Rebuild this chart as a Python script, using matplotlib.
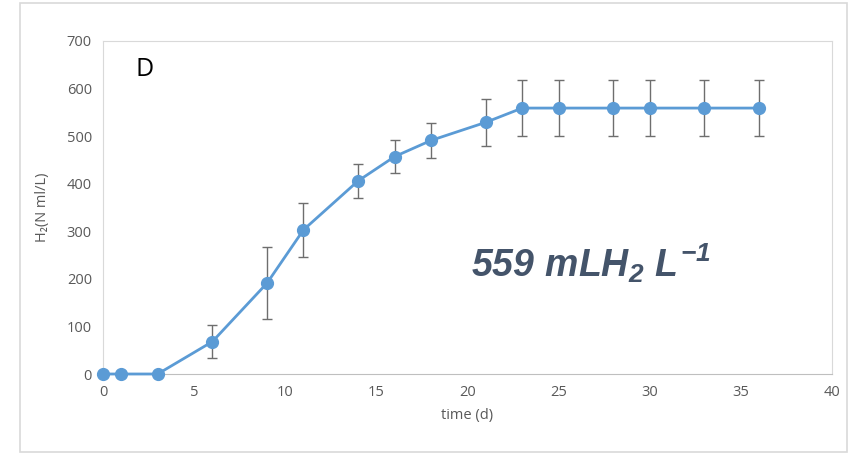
import matplotlib.pyplot as plt
from matplotlib.patches import Rectangle

# time (d)
days = [0, 1, 3, 6, 9, 11, 14, 16, 18, 21, 23, 25, 28, 30, 33, 36]
# cumulative H2 (N ml/L)
h2 = [0, 0, 0, 68, 191, 303, 406, 457, 491, 529, 559, 559, 559, 559, 559, 559]
# standard deviation
h2_err = [0, 0, 0, 34, 76, 57, 36, 35, 36, 50, 59, 59, 59, 59, 59, 59]

x_ticks = [0, 5, 10, 15, 20, 25, 30, 35, 40]
y_ticks = [0, 100, 200, 300, 400, 500, 600, 700]

plt.rcParams['font.family'] = ['Open Sans', 'DejaVu Sans']
# mathtext only used for the big annotation -> bold italic
plt.rcParams['mathtext.fontset'] = 'custom'
plt.rcParams['mathtext.rm'] = 'Liberation Sans:bold:italic'
plt.rcParams['mathtext.it'] = 'Liberation Sans:bold:italic'
plt.rcParams['mathtext.bf'] = 'Liberation Sans:bold:italic'

fig = plt.figure(figsize=(8.49, 4.53), dpi=100)
fig.patches.append(Rectangle((20 / 849, 1 / 453), 827 / 849, 449 / 453,
                             transform=fig.transFigure, fill=False,
                             edgecolor='#D9D9D9', linewidth=1.2))

ax = fig.add_axes([103 / 849, 79 / 453, 729 / 849, 333 / 453])

ax.errorbar(days, h2, yerr=h2_err, fmt='none', ecolor='#6E6E6E',
            elinewidth=1, capsize=3.5, capthick=1, zorder=2)
ax.plot(days, h2, color='#5B9BD5', linewidth=2, marker='o',
        markersize=8.5, zorder=3, clip_on=False)

ax.set_xlim(0, 40)
ax.set_ylim(0, 700)
ax.set_xticks(x_ticks)
ax.set_yticks(y_ticks)
ax.tick_params(length=0, labelsize=10.5, colors='#595959', pad=8)
ax.set_xticklabels([str(v) for v in x_ticks])

for side in ['top', 'right', 'left']:
    ax.spines[side].set_color('#D9D9D9')
ax.spines['bottom'].set_color('#BFBFBF')

ax.set_xlabel('time (d)', fontsize=10.5, color='#595959', labelpad=6)
ax.set_ylabel('H\u2082(N ml/L)', fontsize=10.5, color='#595959', labelpad=12)

ax.text(1.8, 640, 'D', fontsize=18, color='black', va='center')
ax.text(20.2, 204, '$559\\ mLH_2\\ L^{-1}$', fontsize=27,
        color='#44546A')

fig.savefig('out.png', dpi=100)
